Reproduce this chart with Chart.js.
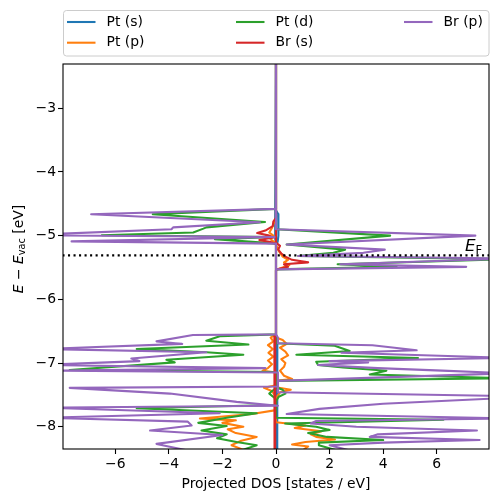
<!DOCTYPE html>
<html>
<head>
<meta charset="utf-8">
<script src="https://cdn.jsdelivr.net/npm/chart.js@4/dist/chart.umd.min.js"></script>
<style>
  html, body { margin: 0; padding: 0; background: #fff; }
  canvas { display: block; }
</style>
</head>
<body>
<canvas id="chartDos" width="498" height="502"></canvas>
<script>
// projected DOS, pairs of [energy (eV), dos (states/eV)]; spin down drawn negative
const ptS_up = [[-2.0,0],[-4.6,0],[-4.66,0.08],[-4.85,0.1],[-5.0,0.08],[-5.1,0.06],[-5.13,0],[-6.55,0],[-6.62,0.05],[-7.2,0.04],[-7.7,0.05],[-8.4,0.05]];
const ptS_dn = [[-2.0,0],[-4.7,-0.03],[-5.05,-0.03],[-5.12,0],[-8.4,0]];

const ptP_up = [[-2.0,0],[-5.15,0],[-5.25,0.12],[-5.33,0.25],[-5.38,0.45],[-5.42,0.3],[-5.46,0.5],[-5.5,0.25],[-5.54,0],
  [-6.6,0],[-6.64,0.25],[-6.7,0.4],[-6.76,0.15],[-6.82,0.35],[-6.88,0.45],[-6.94,0.2],[-7.0,0.35],[-7.06,0.3],[-7.12,0.15],
  [-7.2,0.3],[-7.25,0.6],[-7.28,0],[-7.38,0],[-7.42,0.55],[-7.46,0.15],[-7.52,0.05],[-7.6,0],[-7.93,0],[-7.98,1.1],
  [-8.02,0.7],[-8.07,1.7],[-8.12,1.3],[-8.16,1.5],[-8.2,2.2],[-8.24,1.1],[-8.28,0.6],[-8.31,1.2],[-8.4,0.9]];
const ptP_dn = [[-2.0,0],[-4.72,0],[-4.8,-0.08],[-4.88,-0.15],[-4.95,-0.25],[-5.0,-0.1],[-5.06,-0.2],[-5.12,0],
  [-6.55,0],[-6.6,-0.2],[-6.66,-0.1],[-6.72,-0.3],[-6.78,-0.12],[-6.84,-0.28],[-6.9,-0.1],[-6.96,-0.3],[-7.02,-0.15],
  [-7.08,-0.3],[-7.12,-0.5],[-7.15,0],[-7.35,0],[-7.39,-0.45],[-7.44,-0.15],[-7.5,-0.05],[-7.6,0],[-7.74,0],[-7.8,-0.9],
  [-7.87,-2.84],[-7.9,-1.5],[-7.94,-2.0],[-8.0,-1.22],[-8.04,-1.8],[-8.1,-1.5],[-8.16,-0.72],[-8.22,-1.3],[-8.29,-1.66],[-8.4,-1.0]];

const ptD_up = [[-2.0,0],[-4.90,0],[-5.0,4.26],[-5.14,0.4],[-5.22,2.58],[-5.27,2.14],[-5.32,0.83],[-5.37,8.7],[-5.45,2.3],
  [-5.49,4.5],[-5.53,0],[-6.69,0],[-6.73,2.19],[-6.81,2.75],[-6.87,0.76],[-6.92,5.3],[-6.98,1.5],[-7.03,1.57],[-7.07,2.5],
  [-7.12,4.12],[-7.18,3.5],[-7.24,8.7],[-7.28,0],[-7.38,0],[-7.42,0.25],[-7.48,0.35],[-7.53,0.1],[-7.6,0],[-7.86,0],
  [-7.89,6.25],[-7.95,0.34],[-8.0,1.5],[-8.05,2.0],[-8.1,1.2],[-8.16,1.9],[-8.21,4.0],[-8.25,1.6],[-8.29,1.6],[-8.4,2.5]];
const ptD_dn = [[-2.0,0],[-4.58,0],[-4.665,-4.6],[-4.785,-0.41],[-4.87,-2.6],[-4.89,-2.71],[-4.95,-3.09],[-4.995,-6.5],
  [-5.02,-0.05],[-5.055,-2.28],[-5.125,0],[-6.55,0],[-6.58,-2.1],[-6.65,-2.6],[-6.71,-1.03],[-6.78,-5.2],[-6.83,-2.6],
  [-6.87,-1.22],[-6.95,-4.09],[-6.99,-3.78],[-7.11,-7.7],[-7.14,0],[-7.4,0],[-7.44,-0.15],[-7.48,-0.25],[-7.55,-0.05],
  [-7.66,0],[-7.71,-5.2],[-7.79,-0.72],[-7.86,-1.84],[-7.94,-2.9],[-7.99,-1.84],[-8.06,-2.78],[-8.12,-1.84],[-8.18,-2.2],
  [-8.24,-1.47],[-8.29,-0.72],[-8.4,-1.5]];

const brS_up = [[-2.0,0],[-5.11,0],[-5.16,0.15],[-5.22,0.08],[-5.28,0.2],[-5.33,0.35],[-5.38,0.6],[-5.42,1.2],[-5.45,0.3],
  [-5.49,0.45],[-5.53,0],[-6.55,0],[-6.58,-0.03],[-8.4,-0.03]];
const brS_dn = [[-2.0,0],[-4.72,0],[-4.78,-0.1],[-4.85,-0.12],[-4.92,-0.4],[-4.96,-0.7],[-5.0,-0.25],[-5.03,-0.1],
  [-5.07,-0.62],[-5.1,-0.2],[-5.13,0],[-6.55,0],[-6.58,-0.06],[-7.4,-0.05],[-8.4,-0.06]];

const brP_up = [[-2.0,0],[-4.90,0],[-5.0,7.44],[-5.14,0.4],[-5.22,4.06],[-5.27,3.26],[-5.32,0.83],[-5.36,8.7],[-5.45,2.4],
  [-5.49,7.1],[-5.53,0],[-6.55,0],[-6.6,0.07],[-6.69,0.07],[-6.72,3.6],[-6.80,5.25],[-6.84,2.44],[-6.92,8.7],[-6.97,2.0],
  [-6.99,3.44],[-7.03,1.57],[-7.08,3.8],[-7.12,6.2],[-7.16,8.7],[-7.28,0.07],[-7.46,0.07],[-7.52,8.7],[-7.56,8.0],
  [-7.64,4.0],[-7.72,1.62],[-7.80,0.4],[-7.87,8.7],[-7.91,1.5],[-7.95,1.3],[-8.0,3.0],[-8.06,7.5],[-8.12,3.8],[-8.16,3.5],
  [-8.21,7.6],[-8.25,4.0],[-8.29,2.0],[-8.4,3.0]];
const brP_dn = [[-2.0,0],[-4.58,0],[-4.665,-6.9],[-4.79,-0.6],[-4.87,-3.84],[-4.90,-3.9],[-4.995,-9.5],[-5.02,-0.05],
  [-5.09,-7.63],[-5.125,0],[-6.55,0],[-6.56,-3.1],[-6.66,-4.46],[-6.70,-3.5],[-6.78,-8.7],[-6.83,-2.6],[-6.93,-5.4],
  [-6.97,-5.1],[-7.03,-8.7],[-7.08,-0.4],[-7.12,-8.7],[-7.15,0.07],[-7.37,0.07],[-7.39,-7.7],[-7.48,-3.96],[-7.61,-1.47],
  [-7.67,0.07],[-7.70,-8.7],[-7.79,-2.1],[-7.86,-8.7],[-7.92,-3.3],[-7.98,-3.15],[-8.06,-4.7],[-8.13,-2.0],[-8.27,-4.46],[-8.4,-3.0]];

const labels = ['Pt (s)', 'Pt (p)', 'Pt (d)', 'Br (s)', 'Br (p)'];
const seriesUp = [ptS_up, ptP_up, ptD_up, brS_up, brP_up];
const seriesDn = [ptS_dn, ptP_dn, ptD_dn, brS_dn, brP_dn];
const EF = -5.31;
const xTicks = [-6, -4, -2, 0, 2, 4, 6];
const yTicks = [-8, -7, -6, -5, -4, -3];
const xRange = [-7.95, 7.95];
const yRange = [-8.35, -2.305];

const colores = ['#1f77b4', '#ff7f0e', '#2ca02c', '#d62728', '#9467bd'];
const FONT = '"DejaVu Sans", sans-serif';
const fmt = v => String(v).replace('-', '\u2212');
const toPts = arr => arr.map(p => ({ x: p[1], y: p[0] }));

const datasets = [];
labels.forEach((label, i) => {
    [seriesUp[i], seriesDn[i]].forEach(s => {
        datasets.push({
            label: label,
            data: toPts(s),
            showLine: true,
            borderColor: colores[i],
            borderWidth: 2.08,
            borderJoinStyle: 'round',
            pointRadius: 0,
            tension: 0,
            clip: 0,
            order: 20 - i
        });
    });
});
datasets.push({
    label: 'EF',
    data: [{ x: -9, y: EF }, { x: 9, y: EF }],
    showLine: true,
    borderColor: '#000',
    borderWidth: 2.08,
    borderDash: [2.08, 3.44],
    pointRadius: 0,
    clip: 0,
    order: 0
});

const extras = {
    id: 'extras',
    afterDatasetsDraw(chart) {
        const { ctx, chartArea: a, scales } = chart;
        ctx.save();
        // spines
        ctx.strokeStyle = '#000';
        ctx.lineWidth = 1.1;
        ctx.strokeRect(a.left, a.top, a.right - a.left, a.bottom - a.top);
        // E_F label
        ctx.fillStyle = '#000';
        ctx.textBaseline = 'alphabetic';
        const ex = scales.x.getPixelForValue(7.05);
        const ey = scales.y.getPixelForValue(EF + 0.065);
        ctx.font = 'italic 16.7px ' + FONT;
        ctx.fillText('E', ex, ey);
        const ew = ctx.measureText('E').width;
        ctx.font = '11.7px ' + FONT;
        ctx.fillText('F', ex + ew, ey + 2.5);
        ctx.restore();
    },
    afterDraw(chart) {
        const { ctx, chartArea: a } = chart;
        ctx.save();
        ctx.fillStyle = '#000';
        // x label
        ctx.font = '13.9px ' + FONT;
        ctx.textAlign = 'center';
        ctx.textBaseline = 'middle';
        ctx.fillText('Projected DOS [states / eV]', (a.left + a.right) / 2, 484);
        // y label: E − E_vac [eV]
        const parts = [
            { t: 'E', f: 'italic 13.9px ' + FONT, dy: 0 },
            { t: ' \u2212 ', f: '13.9px ' + FONT, dy: 0 },
            { t: 'E', f: 'italic 13.9px ' + FONT, dy: 0 },
            { t: 'vac', f: '9.7px ' + FONT, dy: 2.8 },
            { t: ' [eV]', f: '13.9px ' + FONT, dy: 0 }
        ];
        let total = 0;
        parts.forEach(p => { ctx.font = p.f; p.w = ctx.measureText(p.t).width; total += p.w; });
        ctx.translate(22.5, 249);
        ctx.rotate(-Math.PI / 2);
        ctx.textAlign = 'left';
        ctx.textBaseline = 'alphabetic';
        let cx = -total / 2;
        parts.forEach(p => { ctx.font = p.f; ctx.fillText(p.t, cx, p.dy); cx += p.w; });
        ctx.setTransform(1, 0, 0, 1, 0, 0);
        // legend (column-major, 3 columns)
        const bx = 63.5, by = 10.5, bw = 425.5, bh = 45.5, r = 3;
        ctx.beginPath();
        ctx.roundRect(bx, by, bw, bh, r);
        ctx.fillStyle = 'rgba(255,255,255,0.8)';
        ctx.fill();
        ctx.strokeStyle = '#cccccc';
        ctx.lineWidth = 1;
        ctx.stroke();
        const colX = [67, 236, 404];
        const rowY = [22, 42.7];
        ctx.font = '13.9px ' + FONT;
        ctx.textBaseline = 'middle';
        labels.forEach((label, i) => {
            const c = Math.floor(i / 2), rr = i % 2;
            const x = colX[c], y = rowY[rr];
            ctx.strokeStyle = colores[i];
            ctx.lineWidth = 2.08;
            ctx.beginPath();
            ctx.moveTo(x, y);
            ctx.lineTo(x + 28.5, y);
            ctx.stroke();
            ctx.fillStyle = '#000';
            ctx.fillText(label, x + 39.5, y);
        });
        ctx.restore();
    }
};

new Chart(document.getElementById('chartDos'), {
    type: 'scatter',
    data: { datasets: datasets },
    options: {
        responsive: false,
        animation: false,
        layout: { padding: { top: 64, right: 9, left: 0, bottom: 0 } },
        plugins: {
            legend: { display: false },
            tooltip: { enabled: false }
        },
        scales: {
            x: {
                type: 'linear',
                min: xRange[0],
                max: xRange[1],
                afterBuildTicks: s => { s.ticks = xTicks.map(v => ({ value: v })); },
                afterFit: s => { s.height = 53; },
                border: { display: false },
                grid: { drawOnChartArea: false, drawTicks: true, tickLength: 5, tickWidth: 1.1, tickColor: '#000' },
                ticks: { color: '#000', font: { family: FONT, size: 13.9 }, padding: 2, maxRotation: 0, autoSkip: false, callback: v => fmt(v) }
            },
            y: {
                type: 'linear',
                min: yRange[0],
                max: yRange[1],
                afterBuildTicks: s => { s.ticks = yTicks.map(v => ({ value: v })); },
                afterFit: s => { s.width = 63; },
                border: { display: false },
                grid: { drawOnChartArea: false, drawTicks: true, tickLength: 5, tickWidth: 1.1, tickColor: '#000' },
                ticks: { color: '#000', font: { family: FONT, size: 13.9 }, padding: 2, autoSkip: false, callback: v => fmt(v) }
            }
        }
    },
    plugins: [extras]
});
</script>
</body>
</html>
